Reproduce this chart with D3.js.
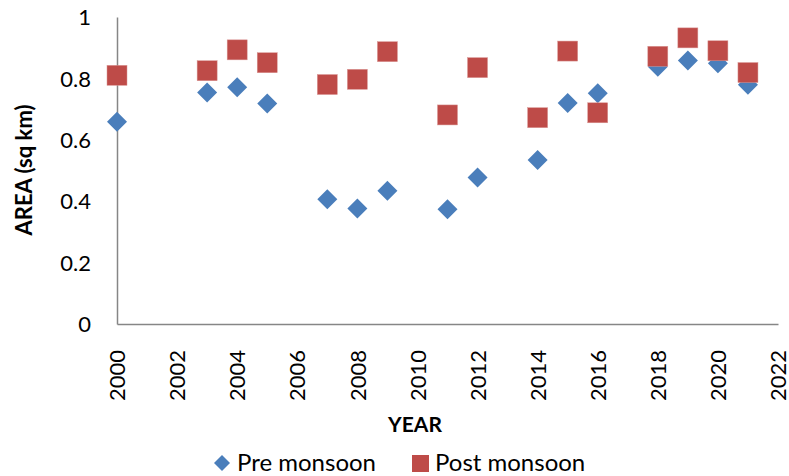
<!DOCTYPE html>
<html>
<head>
<meta charset="utf-8">
<script src="https://cdn.jsdelivr.net/npm/d3@7"></script>
<style>
  body { margin: 0; background: #fff; }
  text { font-family: Lato, 'Open Sans', sans-serif; fill: #000; }
</style>
</head>
<body>
<svg id="chart"></svg>
<script>
// Data
var years = [2000, 2003, 2004, 2005, 2007, 2008, 2009, 2011, 2012, 2014, 2015, 2016, 2018, 2019, 2020, 2021]
var preMonsoon = [0.659, 0.754, 0.771, 0.718, 0.406, 0.376, 0.434, 0.374, 0.477, 0.534, 0.720, 0.752, 0.838, 0.858, 0.849, 0.779]
var postMonsoon = [0.810, 0.825, 0.893, 0.851, 0.780, 0.797, 0.887, 0.681, 0.835, 0.672, 0.889, 0.688, 0.872, 0.932, 0.890, 0.819]
var xTicks = [2000, 2002, 2004, 2006, 2008, 2010, 2012, 2014, 2016, 2018, 2020, 2022]
var yTicks = [0, 0.2, 0.4, 0.6, 0.8, 1]

var width = 789
var height = 476
var plotLeft = 117
var plotRight = 778
var plotTop = 17
var plotBottom = 324
var blue = '#4a7ebb'
var red = '#be4b48'
var axisGrey = '#868686'

var svg = d3.select('#chart').attr('width', width).attr('height', height)

var x = d3.scaleLinear().domain([2000, 2022]).range([plotLeft, plotRight])
var y = d3.scaleLinear().domain([0, 1]).range([plotBottom, plotTop])

// Axes
var xAxis = svg.append('g')
  .attr('transform', 'translate(0,' + plotBottom + ')')
  .call(d3.axisBottom(x).tickValues(xTicks).tickSize(0).tickFormat(d3.format('d')))
xAxis.select('.domain').attr('stroke', axisGrey).attr('stroke-width', 1.5)
xAxis.selectAll('text')
  .attr('font-size', 22)
  .attr('transform', 'rotate(-90)')
  .attr('text-anchor', 'end')
  .attr('x', -26)
  .attr('y', 0)
  .attr('dy', '0.35em')

var yAxis = svg.append('g')
  .attr('transform', 'translate(' + plotLeft + ',0)')
  .call(d3.axisLeft(y).tickValues(yTicks).tickSize(0).tickFormat(function (d) { return d === 0 || d === 1 ? d : d.toFixed(1) }))
yAxis.select('.domain').attr('stroke', axisGrey).attr('stroke-width', 1.5)
yAxis.selectAll('text')
  .attr('font-size', 22)
  .attr('x', -26)
  .attr('dy', '0.35em')

// Axis titles
svg.append('text')
  .attr('transform', 'translate(32,170) rotate(-90)')
  .attr('text-anchor', 'middle')
  .attr('font-size', 22)
  .attr('font-weight', 'bold')
  .text('AREA (sq km)')

svg.append('text')
  .attr('x', 415)
  .attr('y', 432)
  .attr('text-anchor', 'middle')
  .attr('font-size', 21)
  .attr('font-weight', 'bold')
  .text('YEAR')

// Points: diamonds first, squares on top
var diamond = d3.symbol().type(d3.symbolSquare).size(200)
svg.append('g').selectAll('path')
  .data(years)
  .enter().append('path')
  .attr('d', diamond)
  .attr('fill', blue)
  .attr('transform', function (d, i) {
    return 'translate(' + x(d) + ',' + y(preMonsoon[i]) + ') rotate(45)'
  })

svg.append('g').selectAll('rect')
  .data(years)
  .enter().append('rect')
  .attr('x', function (d) { return x(d) - 10 })
  .attr('y', function (d, i) { return y(postMonsoon[i]) - 10 })
  .attr('width', 20)
  .attr('height', 20)
  .attr('fill', red)
  .attr('stroke', '#d99694')
  .attr('stroke-width', 0.5)

// Legend
var legend = svg.append('g')
legend.append('path')
  .attr('d', d3.symbol().type(d3.symbolSquare).size(128))
  .attr('fill', blue)
  .attr('transform', 'translate(222,463) rotate(45)')
legend.append('text')
  .attr('x', 237)
  .attr('y', 471)
  .attr('font-size', 24)
  .text('Pre monsoon')
legend.append('rect')
  .attr('x', 412).attr('y', 455)
  .attr('width', 17).attr('height', 17)
  .attr('fill', red)
legend.append('text')
  .attr('x', 435)
  .attr('y', 471)
  .attr('font-size', 24)
  .text('Post monsoon')
</script>
</body>
</html>
